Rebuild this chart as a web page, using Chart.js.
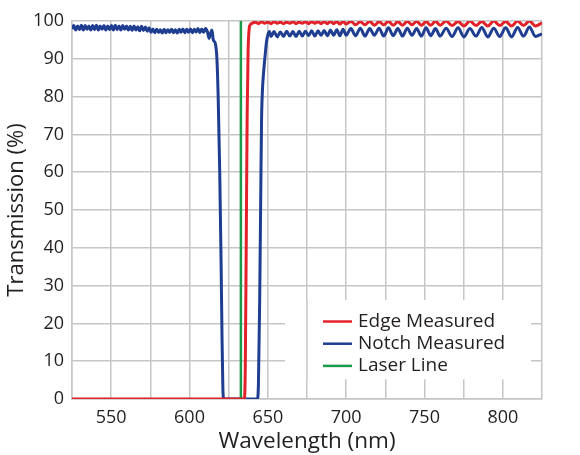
<!DOCTYPE html>
<html>
<head>
<meta charset="utf-8">
<script src="https://cdn.jsdelivr.net/npm/chart.js@4/dist/chart.umd.min.js"></script>
<style>
  html, body { margin: 0; padding: 0; background: #fff; }
  #wrap { width: 580px; height: 455px; position: relative; }
</style>
</head>
<body>
<div id="wrap"><canvas id="grafica_transmision" width="580" height="455"></canvas></div>
<script>
// ---- data ----
const seriesNames = ["Edge Measured", "Notch Measured", "Laser Line"];

const laserNm = [632.8, 632.8];
const laserT  = [0, 100];

const edgeNm = [525, 635.0, 635.6, 636.2, 636.8, 637.4, 638.0, 638.8, 640.0,
  642, 644, 646, 648, 650, 652, 654, 656, 658, 660, 662, 664, 666, 668, 670,
  672, 674, 676, 678, 680, 682, 684, 686, 688, 690, 692, 694, 696, 698, 700,
  703, 706, 709, 712, 715, 718, 721, 724, 727, 730, 733, 736, 739, 742, 745,
  748, 751, 754, 757, 760,
  763.8, 767.6, 771.4, 775.2, 779.0, 782.8, 786.6, 790.4, 794.2, 798.0, 801.8,
  805.6, 809.4, 813.2, 817.0, 820.8, 825.0];
const edgeT = [0, 0, 8, 40, 75, 92, 97.5, 99.0, 99.4,
  99.7, 99.3, 99.8, 99.4, 99.7, 99.3, 99.8, 99.4, 99.7, 99.3, 99.7, 99.4, 99.8,
  99.3, 99.7, 99.4, 99.8, 99.3, 99.8, 99.4, 99.8, 99.3, 99.8, 99.3, 99.9, 99.3,
  99.8, 99.2, 99.9, 99.2,
  99.9, 99.0, 99.8, 99.0, 99.9, 98.9, 99.8, 99.0, 99.9, 98.9, 99.8, 98.9, 99.9,
  99.0, 99.9, 98.9, 99.8, 98.9, 99.9, 98.9,
  100, 98.8, 99.9, 98.7, 100, 98.8, 99.9, 98.7, 100, 98.8, 99.9, 98.7, 100,
  98.8, 100, 98.7, 99.5];

const notchNm = [525.0, 526.2, 527.4, 528.6, 529.8, 531.0, 532.2, 533.4, 534.6,
  535.8, 537.0, 538.2, 539.4, 540.6, 541.8, 543.0, 544.2, 545.4, 546.6, 547.8,
  549.0, 550.2, 551.4, 552.6, 553.8, 555.0, 556.2, 557.4, 558.6, 559.8, 561.0,
  562.2, 563.4, 564.6, 565.8, 567.0, 568.2, 569.4, 570.6, 571.8, 573.0, 574.2,
  575.4, 576.6, 577.8, 579.0, 580.2, 581.4, 582.6, 583.8, 585.0, 586.2, 587.4,
  588.6, 589.8, 591.0, 592.2, 593.4, 594.6, 595.8, 597.0, 598.2, 599.4, 600.6,
  601.8, 603.0, 604.2, 605.4, 606.6, 607.8, 609.0, 610.2, 611.4,
  612.5, 613.5, 614.3, 615.2, 616.5, 617.5, 618.3, 619.3, 620.2, 620.8, 621.3, 621.8,
  643.3, 644.0, 644.8, 645.5, 646.0, 646.6, 647.4, 648.3, 649.0, 650.0, 651.0,
  652, 654, 656, 658, 660, 662, 664, 666, 668, 670, 672, 674, 676, 678, 680,
  682, 684, 686, 688, 690, 692, 694, 696, 698, 700,
  703, 706, 709, 712, 715, 718, 721, 724, 727, 730, 733, 736, 739, 742, 745,
  748, 751, 754, 757, 760,
  763.8, 767.6, 771.4, 775.2, 779.0, 782.8, 786.6, 790.4, 794.2, 798.0, 801.8,
  805.6, 809.4, 813.2, 817.0, 820.8, 825.0];
const notchT = [97.9, 98.8, 97.6, 98.7, 97.7, 98.9, 97.6, 98.8, 97.8,
  98.7, 97.6, 98.8, 97.7, 98.9, 97.6, 98.7, 97.8, 98.8, 97.6, 98.7,
  97.7, 98.8, 97.6, 98.9, 97.7, 98.7, 97.6, 98.8, 97.8, 98.7, 97.6,
  98.6, 97.5, 98.7, 97.6, 98.5, 97.4, 98.6, 97.5, 98.4, 97.3, 98.2,
  97.0, 97.9, 96.9, 97.8, 97.0, 97.7, 96.8, 97.8, 96.9, 97.7, 97.0,
  97.8, 96.9, 97.7, 96.8, 97.8, 97.0, 97.9, 96.9, 97.8, 97.0, 97.9,
  96.9, 97.8, 97.1, 98.0, 96.9, 97.9, 97.0, 98.0, 97.2,
  95.4, 96.8, 97.6, 95.0, 94.0, 90.0, 80.0, 60.0, 35.0, 15.0, 3.0, 0,
  0, 4, 26, 55, 74, 82, 87, 91, 94, 96.3, 97.2,
  95.9, 97.2, 95.8, 97.1, 95.9, 97.3, 96.0, 97.2, 95.9, 97.3, 96.0, 97.3, 96.1,
  97.4, 96.0, 97.4, 96.2, 97.5, 96.1, 97.6, 96.2, 97.7, 96.1, 97.8, 96.2,
  98.0, 96.1, 98.1, 96.0, 98.0, 96.2, 98.1, 96.0, 98.2, 96.1, 98.0, 96.0, 98.1,
  96.2, 98.0, 96.0, 98.2, 96.1, 98.0, 96.0,
  98.1, 95.9, 98.2, 95.8, 98.0, 96.0, 98.3, 95.8, 98.1, 95.9, 98.2, 95.8, 98.3,
  96.0, 98.4, 95.9, 96.6];

const colores = ["#e2222a", "#1f3d91", "#1b9a4a"];
const fuente = "'Open Sans', 'Noto Sans', sans-serif";

function puntos(xs, ys) {
  return xs.map((x, i) => ({ x: x, y: ys[i] }));
}

// legend drawn inside the plot, bottom right, on a white patch
const leyendaInterna = {
  id: 'leyendaInterna',
  afterDatasetsDraw(chart) {
    const ctx = chart.ctx;
    const xs = chart.scales.x;
    const ys = chart.scales.y;
    ctx.save();
    ctx.fillStyle = '#fff';
    ctx.fillRect(xs.getPixelForValue(661), ys.getPixelForValue(26.2), xs.getPixelForValue(818) - xs.getPixelForValue(661), ys.getPixelForValue(5.2) - ys.getPixelForValue(26.2));
    // the 675 grid line stays visible through the patch
    ctx.strokeStyle = '#c6c6c6';
    ctx.lineWidth = 1.5;
    ctx.beginPath();
    ctx.moveTo(xs.getPixelForValue(675), ys.getPixelForValue(26.2));
    ctx.lineTo(xs.getPixelForValue(675), ys.getPixelForValue(5.2));
    ctx.stroke();

    const x0 = xs.getPixelForValue(685.2);
    const x1 = xs.getPixelForValue(703.7);
    ctx.font = "19px " + fuente;
    ctx.textBaseline = 'middle';
    ctx.textAlign = 'left';
    seriesNames.forEach((name, i) => {
      const y = ys.getPixelForValue(20.5) + i * 22.2;
      ctx.strokeStyle = colores[i];
      ctx.lineWidth = 2.5;
      ctx.beginPath();
      ctx.moveTo(x0, y);
      ctx.lineTo(x1, y);
      ctx.stroke();
      ctx.fillStyle = '#231f20';
      ctx.fillText(name, x1 + 6, y);
    });
    ctx.restore();
  }
};

const ctx = document.getElementById("grafica_transmision").getContext("2d");
const chartTransmision = new Chart(ctx, {
  type: 'line',
  data: {
    datasets: [
      {
        label: seriesNames[0],
        data: puntos(edgeNm, edgeT),
        borderColor: colores[0],
        borderWidth: 3,
        pointRadius: 0,
        cubicInterpolationMode: 'monotone',
        order: 0
      },
      {
        label: seriesNames[1],
        data: puntos(notchNm, notchT),
        borderColor: colores[1],
        borderWidth: 3,
        pointRadius: 0,
        cubicInterpolationMode: 'monotone',
        order: 2
      },
      {
        label: seriesNames[2],
        data: puntos(laserNm, laserT),
        borderColor: colores[2],
        borderWidth: 2.5,
        pointRadius: 0,
        order: 1
      }
    ]
  },
  options: {
    responsive: false,
    animation: false,
    layout: { padding: { top: 21, right: 38, left: 0, bottom: 0 } },
    plugins: {
      legend: { display: false },
      tooltip: { enabled: false }
    },
    scales: {
      x: {
        type: 'linear',
        min: 525,
        max: 825,
        afterFit: (scale) => { scale.height = 56; },
        grid: { color: '#c6c6c6', lineWidth: 1.5, drawTicks: false },
        border: { color: '#c6c6c6', width: 1.5 },
        ticks: {
          stepSize: 25,
          padding: 8,
          color: '#231f20',
          font: { family: fuente, size: 18 },
          maxRotation: 0,
          autoSkip: false,
          callback: (v) => (v % 50 === 0 ? v : '')
        },
        title: {
          display: true,
          text: 'Wavelength (nm)',
          color: '#231f20',
          font: { family: fuente, size: 22.5 },
          padding: { top: 0, bottom: 0 }
        }
      },
      y: {
        min: 0,
        max: 100,
        afterFit: (scale) => { scale.width = 72; },
        grid: { color: '#c6c6c6', lineWidth: 1.5, drawTicks: false },
        border: { color: '#c6c6c6', width: 1.5 },
        ticks: {
          stepSize: 10,
          padding: 8,
          color: '#231f20',
          font: { family: fuente, size: 18 }
        },
        title: {
          display: true,
          text: 'Transmission (%)',
          color: '#231f20',
          font: { family: fuente, size: 22 },
          padding: { top: 4, bottom: 0 }
        }
      }
    }
  },
  plugins: [leyendaInterna]
});
</script>
</body>
</html>
